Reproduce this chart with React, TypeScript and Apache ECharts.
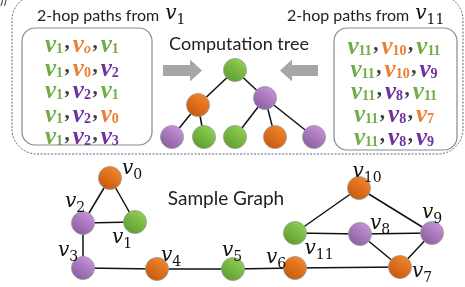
import React, { useEffect, useRef } from 'react';
import * as echarts from 'echarts';

// ---------- data ----------
const GREEN = '#70ad47';
const ORANGE = '#ed7d31';
const PURPLE = '#7030a0';

// sample graph
const nodeNames = ['v0', 'v1', 'v2', 'v3', 'v4', 'v5', 'v6', 'v7', 'v8', 'v9', 'v10', 'v11'];
const nodeSubs = ['0', '1', '2', '3', '4', '5', '6', '7', '8', '9', '10', '11'];
const nodeKinds = ['o', 'g', 'p', 'p', 'o', 'g', 'o', 'o', 'p', 'p', 'o', 'g'];
const nodeX = [110, 135, 83, 83, 157, 233, 295, 400, 360, 432, 359, 295];
const nodeY = [178, 222, 223, 268, 269, 269, 268, 267, 234, 233, 188, 233];
const labelDX = [22, -13, -8, -15, 14, -1, -19, 22, 20, 0, 8, 24];
const labelDY = [-9, 16, -21, -17, -13, -18, -10, 5, -10, -20, -16, 16];
const graphEdges = [
  [0, 2], [0, 1], [2, 1], [2, 3], [3, 4], [4, 5], [5, 6], [6, 7],
  [7, 8], [7, 9], [8, 9], [8, 11], [11, 10], [10, 9],
];

// computation tree
const treeKinds = ['g', 'o', 'p', 'p', 'g', 'g', 'o', 'p'];
const treeX = [235, 198, 265, 172, 204, 235, 275, 314];
const treeY = [70, 105, 98, 137, 137, 137, 137, 137];
const treeEdges = [[0, 1], [0, 2], [1, 3], [1, 4], [2, 5], [2, 6], [2, 7]];

// 2-hop paths (subscripts; "o" reproduces the original typo)
const pathsFromV1 = [
  ['1', 'o', '1'],
  ['1', '0', '2'],
  ['1', '2', '1'],
  ['1', '2', '0'],
  ['1', '2', '3'],
];
const pathsFromV11 = [
  ['11', '10', '11'],
  ['11', '10', '9'],
  ['11', '8', '11'],
  ['11', '8', '7'],
  ['11', '8', '9'],
];

// ---------- helpers ----------
const GRAD: Record<string, [string, string]> = {
  g: ['#93d356', '#5a9a2c'],
  o: ['#f6892e', '#c4550c'],
  p: ['#cc95de', '#875a9c'],
};
const fill = (k: string) =>
  new echarts.graphic.LinearGradient(0.85, 0, 0.15, 1, [
    { offset: 0, color: GRAD[k][0] },
    { offset: 1, color: GRAD[k][1] },
  ]);

const mk = (
  family: string, size: number, italic: boolean, bold: boolean,
  color: string, va: string, lh: number, extra: any = {},
) => ({
  fontFamily: family, fontSize: size,
  fontStyle: italic ? 'italic' : 'normal', fontWeight: bold ? 'bold' : 'normal',
  color, fill: color, verticalAlign: va, lineHeight: lh, ...extra,
});
const SER = 'Liberation Serif';
const DJ = 'DejaVu Serif';
const pv = (c: string) => mk(SER, 25, true, true, c, 'top', 20);
const ps = (c: string) => mk(SER, 14, false, true, c, 'bottom', 25);
const pi = (c: string) => mk(SER, 14, true, true, c, 'bottom', 25);
const rich: any = {
  g: pv(GREEN), gs: ps(GREEN), gi: pi(GREEN),
  o: pv(ORANGE), os: ps(ORANGE), oi: pi(ORANGE),
  p: pv(PURPLE), ps: ps(PURPLE), pi: pi(PURPLE),
  c: mk(SER, 21, false, true, '#404040', 'top', 20, { padding: [0, 3, 0, 1.5] }),
  k: mk(DJ, 20, true, false, '#111', 'top', 20),
  ks: mk(DJ, 14, false, false, '#111', 'bottom', 24),
  t: mk('Lato', 16, false, false, '#222', 'middle', 24, { padding: [0, 2, 0, 0] }),
};
const subKind = (s: string) => nodeKinds[s === 'o' ? 0 : parseInt(s, 10)];
const tok = (s: string) => {
  const k = subKind(s);
  const sub = s === 'o' ? `{${k}i|o}` : `{${k}s|${s}}`;
  return `{${k}|v}${sub}`;
};
const pathLine = (p: string[]) => p.map(tok).join('{c|,}');

export default function App() {
  const ref = useRef<HTMLDivElement>(null);
  useEffect(() => {
    const chart = echarts.init(ref.current!, null, { renderer: 'svg' });

    const graphData = nodeNames.map((n, i) => ({
      name: n,
      value: [nodeX[i], nodeY[i]],
      itemStyle: { color: fill(nodeKinds[i]) },
      label: { offset: [labelDX[i], labelDY[i]], formatter: `{k|v}{ks|${nodeSubs[i]}}` },
    }));
    const treeData = treeKinds.map((k, i) => ({
      name: 't' + i,
      value: [treeX[i], treeY[i]],
      itemStyle: { color: fill(k) },
    }));

    const graphics: any[] = [
      {
        type: 'rect', shape: { x: 12, y: -5, width: 451, height: 159, r: 25 },
        style: { fill: 'none', stroke: '#2f3e5c', lineWidth: 0.8, lineDash: [2, 1.5] },
      },
      {
        type: 'text', x: 0, y: -8,
        style: { text: '))', fontFamily: 'Lato', fontSize: 13, fill: '#2f3e5c' },
      },
      {
        type: 'rect', shape: { x: 22, y: 28, width: 130, height: 117, r: 13 },
        style: { fill: 'none', stroke: '#8a8a8a', lineWidth: 1.2 },
      },
      {
        type: 'rect', shape: { x: 334, y: 28, width: 123, height: 122, r: 13 },
        style: { fill: 'none', stroke: '#8a8a8a', lineWidth: 1.2 },
      },
      {
        type: 'polygon',
        shape: { points: [[163, 65], [190, 65], [190, 59.5], [202, 70.5], [190, 81.5], [190, 76], [163, 76]] },
        style: { fill: '#a6a6a6' },
      },
      {
        type: 'polygon',
        shape: { points: [[318, 65], [292, 65], [292, 59.5], [280, 70.5], [292, 81.5], [292, 76], [318, 76]] },
        style: { fill: '#a6a6a6' },
      },
      {
        type: 'text', x: 37, y: 14,
        style: { text: '{t|2-hop paths from }{k|v}{ks|1}', rich, align: 'left', verticalAlign: 'middle' },
      },
      {
        type: 'text', x: 287, y: 14,
        style: { text: '{t|2-hop paths from }{k|v}{ks|11}', rich, align: 'left', verticalAlign: 'middle' },
      },
      {
        type: 'text', x: 239, y: 43,
        style: { text: 'Computation tree', fontFamily: 'Lato', fontSize: 18, fill: '#222', align: 'center', verticalAlign: 'middle' },
      },
      {
        type: 'text', x: 226, y: 197,
        style: { text: 'Sample Graph', fontFamily: 'Lato', fontSize: 19, fill: '#222', align: 'center', verticalAlign: 'middle' },
      },
    ];
    const leftRowsY = [43, 67, 89, 113, 135];
    const rightRowsY = [45, 68, 90, 113, 136];
    pathsFromV1.forEach((p, i) => {
      graphics.push({
        type: 'text', x: 45, y: leftRowsY[i],
        style: { text: pathLine(p), rich, align: 'left', verticalAlign: 'middle' },
      });
    });
    pathsFromV11.forEach((p, i) => {
      graphics.push({
        type: 'text', x: 394, y: rightRowsY[i],
        style: { text: pathLine(p), rich, align: 'center', verticalAlign: 'middle' },
      });
    });

    const nodeStyleCommon = {
      type: 'graph',
      coordinateSystem: 'cartesian2d',
      xAxisIndex: 0,
      yAxisIndex: 0,
      symbol: 'circle',
      symbolSize: 23,
      silent: true,
      emphasis: { disabled: true },
      lineStyle: { color: '#111', width: 1.5, opacity: 1, curveness: 0 },
    };

    chart.setOption({
      animation: false,
      grid: { left: 0, right: 0, top: 0, bottom: 0 },
      xAxis: { type: 'value', min: 0, max: 465, show: false },
      yAxis: { type: 'value', min: 0, max: 287, inverse: true, show: false },
      series: [
        {
          ...nodeStyleCommon,
          name: 'Sample Graph',
          itemStyle: { borderColor: '#9a9a9a', borderWidth: 0.8 },
          label: { show: true, position: 'inside', rich },
          data: graphData,
          links: graphEdges.map(([s, t]) => ({ source: nodeNames[s], target: nodeNames[t] })),
        },
        {
          ...nodeStyleCommon,
          name: 'Computation tree',
          itemStyle: { borderColor: '#9a9a9a', borderWidth: 0.8 },
          label: { show: false },
          data: treeData,
          links: treeEdges.map(([s, t]) => ({ source: 't' + s, target: 't' + t })),
        },
      ],
      graphic: graphics,
    });
    return () => chart.dispose();
  }, []);
  return <div ref={ref} style={{ position: 'fixed', left: 0, top: 0, width: 465, height: 287 }} />;
}
